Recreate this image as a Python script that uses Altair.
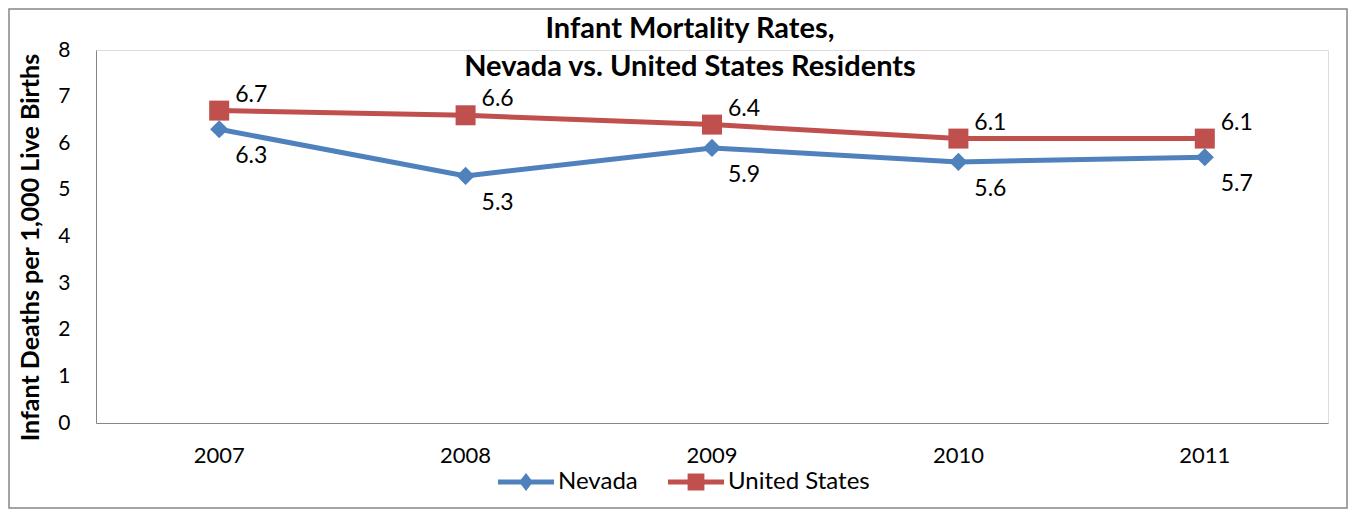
import altair as alt
import pandas as pd

years = ["2007", "2008", "2009", "2010", "2011"]
nevada = [6.3, 5.3, 5.9, 5.6, 5.7]
united_states = [6.7, 6.6, 6.4, 6.1, 6.1]
series_names = ["Nevada", "United States"]
series_colors = ["#4F81BD", "#C0504D"]

rows = []
for y, v in zip(years, nevada):
    rows.append({"year": y, "value": v, "series": "Nevada"})
for y, v in zip(years, united_states):
    rows.append({"year": y, "value": v, "series": "United States"})
df = pd.DataFrame(rows)

# legend-only rows: no value, so nothing is drawn in the plot
legend_rows = [{"year": years[0], "value": None, "series": s} for s in series_names]

FONT = "Lato"
W, H = 1232, 373

x_enc = alt.X("year:N", title=None,
              scale=alt.Scale(type="band", paddingInner=0, paddingOuter=0),
              axis=alt.Axis(labelAngle=0, ticks=False, labelPadding=22, labelFontSize=22,
                            domainColor="#868686", labelColor="#000000", labelFont=FONT))
y_enc = alt.Y("value:Q", title="Infant Deaths per 1,000 Live Births",
              scale=alt.Scale(domain=[0, 8], nice=False),
              axis=alt.Axis(values=[0, 1, 2, 3, 4, 5, 6, 7, 8], grid=False, ticks=False,
                            labelPadding=26, labelFontSize=21, domainColor="#868686",
                            labelColor="#000000", labelFont=FONT,
                            titleFont=FONT, titleFontSize=25, titleFontWeight="bold",
                            titleColor="#000000", titleX=-53, titleY=197))

base = alt.Chart(df)

layers = []
for name, color, shape, size, dy in [("Nevada", series_colors[0], "diamond", 330, 27),
                                     ("United States", series_colors[1], "square", 400, -16)]:
    sub = base.transform_filter(alt.datum.series == name)
    line = sub.mark_line(color=color, strokeWidth=5).encode(x=x_enc, y=y_enc)
    pts = sub.mark_point(shape=shape, filled=True, size=size, color=color, opacity=1).encode(x=x_enc, y=y_enc)
    lbl = sub.mark_text(dx=32, dy=dy, fontSize=23, font=FONT, color="#000000").encode(
        x=x_enc, y=y_enc, text=alt.Text("value:Q", format=".1f"))
    layers += [line, pts, lbl]

nev_path = "M-1,-0.09L1,-0.09L1,0.09L-1,0.09Z M0,-0.32L0.25,0L0,0.32L-0.25,0Z"
us_path = "M-1,-0.09L1,-0.09L1,0.09L-1,0.09Z M-0.3,-0.3L0.3,-0.3L0.3,0.3L-0.3,0.3Z"

legend_layer = alt.Chart(alt.Data(values=legend_rows)).mark_point(filled=True, opacity=1).encode(
    x=x_enc, y=y_enc,
    color=alt.Color("series:N", scale=alt.Scale(domain=series_names, range=series_colors),
                    legend=alt.Legend(title=None, orient="none", legendX=402, legendY=404,
                                      direction="horizontal", symbolSize=3136,
                                      symbolOpacity=1, symbolStrokeWidth=0,
                                      labelFontSize=24, labelFont=FONT, labelColor="#000000",
                                      labelOffset=4, columnPadding=30)),
    shape=alt.Shape("series:N", scale=alt.Scale(domain=series_names, range=[nev_path, us_path])),
)

border = alt.Chart(alt.Data(values=[{}])).mark_rect(
    fill=None, stroke="#868686", strokeWidth=1.5).encode(
    x=alt.value(-87), x2=alt.value(W + 19), y=alt.value(-41), y2=alt.value(H + 85))

chart = alt.layer(border, *layers, legend_layer).properties(
    width=W, height=H,
    title=alt.TitleParams(text=["Infant Mortality Rates,", "Nevada vs. United States Residents"],
                          font=FONT, fontSize=29, fontWeight="bold", color="#000000",
                          anchor="middle", frame="group", dx=-22, lineHeight=38,
                          offset=0, dy=74),
    autosize=alt.AutoSizeParams(type="none"),
    padding={"left": 88, "top": 42, "right": 20, "bottom": 86},
).configure_view(stroke=None).configure(background="white")

chart.save("out.html", embed_options={"renderer": "svg", "actions": False})
